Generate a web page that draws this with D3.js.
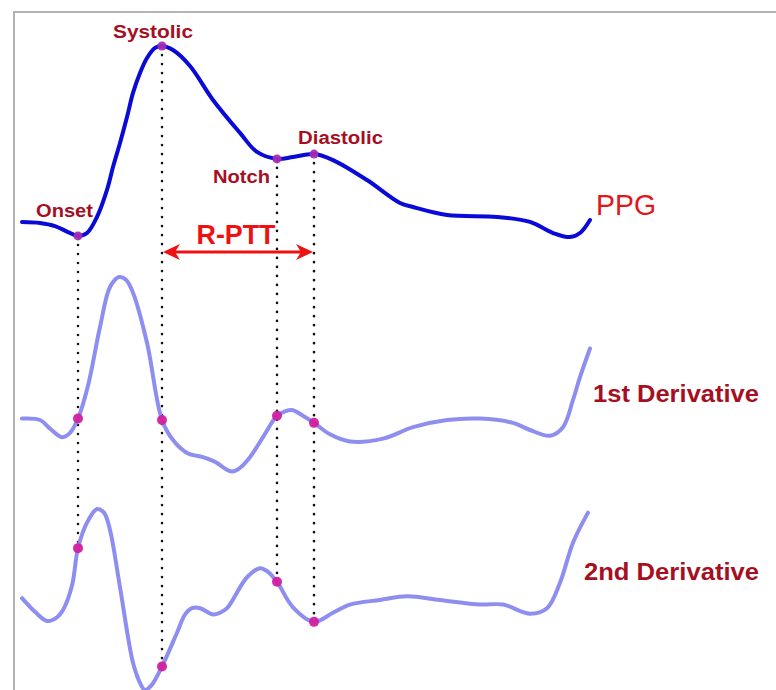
<!DOCTYPE html>
<html>
<head>
<meta charset="utf-8">
<script src="https://cdn.jsdelivr.net/npm/d3@7"></script>
<style>
  html, body { margin: 0; padding: 0; background: #fff; }
  svg { display: block; }
  text { font-family: "Liberation Sans", Arial, sans-serif; }
</style>
</head>
<body>
<div id="chart"></div>
<script>
// One cardiac cycle of a PPG pulse with its first and second derivatives.
// Time in ms from start of the window; amplitudes normalised per trace.
const ppgT = [0, 18, 33, 46, 56, 65, 75, 85, 91, 98, 105, 111, 118, 125, 133, 140, 151, 168, 191, 218, 235, 255, 271, 292, 311, 345, 378, 391, 425, 475, 508, 531, 548, 558, 568];
const ppgV = [0.093, 0.088, 0.072, 0.041, 0.021, 0.036, 0.119, 0.258, 0.376, 0.500, 0.634, 0.758, 0.861, 0.938, 0.990, 1.0, 0.979, 0.897, 0.722, 0.552, 0.454, 0.418, 0.428, 0.443, 0.412, 0.309, 0.191, 0.170, 0.129, 0.119, 0.093, 0.036, 0.015, 0.036, 0.103];

const d1T = [0, 18, 28, 40, 48, 56, 66, 78, 88, 97, 104, 111, 125, 140, 151, 165, 181, 195, 203, 210, 217, 228, 241, 255, 263, 270, 281, 292, 308, 328, 361, 391, 425, 458, 491, 508, 528, 541, 551, 558, 568];
const d1V = [0.01, 0, -0.06, -0.12, -0.09, 0.01, 0.24, 0.65, 0.93, 1.0, 0.98, 0.89, 0.54, 0, -0.14, -0.23, -0.26, -0.30, -0.34, -0.36, -0.34, -0.26, -0.12, 0.03, 0.06, 0.07, 0.03, -0.02, -0.10, -0.15, -0.13, -0.05, 0, 0.01, -0.02, -0.07, -0.11, -0.05, 0.14, 0.30, 0.50];

const d2T = [0, 13, 25, 35, 41, 50, 56, 65, 75, 82, 88, 98, 111, 118, 123, 130, 140, 155, 163, 170, 178, 191, 198, 205, 225, 238, 246, 255, 271, 292, 311, 328, 358, 385, 418, 458, 481, 508, 525, 538, 551, 566];
const d2V = [0.02, -0.13, -0.23, -0.19, -0.11, 0.16, 0.57, 0.85, 1.0, 0.96, 0.77, 0.14, -0.69, -0.91, -0.99, -0.93, -0.73, -0.36, -0.16, -0.09, -0.09, -0.16, -0.14, -0.09, 0.25, 0.35, 0.31, 0.20, -0.08, -0.24, -0.14, -0.05, 0, 0.04, 0, -0.05, -0.05, -0.15, -0.09, 0.19, 0.63, 0.96];

// Fiducial points on the PPG pulse
const fiducialNames = ["Onset", "Systolic", "Notch", "Diastolic"];
const fiducialT = [56, 140, 255, 292];

const traceNames = ["PPG", "1st Derivative", "2nd Derivative"];

const W = 776, H = 690;
const svg = d3.select("#chart").append("svg").attr("width", W).attr("height", H);

const x = d3.scaleLinear().domain([0, 568]).range([22, 590]);
const yPPG = d3.scaleLinear().domain([0, 1]).range([240, 46]);
const yD1 = d3.scaleLinear().domain([0, 1]).range([420, 277]);
const yD2 = d3.scaleLinear().domain([0, 1]).range([600, 509]);

// frame
svg.append("path")
  .attr("d", `M14,${H} L14,12 L${W},12`)
  .attr("fill", "none").attr("stroke", "#b4b4b4").attr("stroke-width", 2);

const series = [
  { t: ppgT, v: ppgV, y: yPPG, color: "#0a0ad8", width: 4 },
  { t: d1T, v: d1V, y: yD1, color: "#8e8ef0", width: 4 },
  { t: d2T, v: d2V, y: yD2, color: "#8e8ef0", width: 4 }
];
const valueAt = (s, t) => s.v[s.t.indexOf(t)];

// dotted guides from the PPG point down to the 2nd-derivative point
const guides = svg.append("g");
fiducialT.forEach(t => {
  guides.append("line")
    .attr("x1", x(t)).attr("x2", x(t))
    .attr("y1", yPPG(valueAt(series[0], t)))
    .attr("y2", yD2(valueAt(series[2], t)))
    .attr("stroke", "#111").attr("stroke-width", 2.6)
    .attr("stroke-linecap", "round")
    .attr("stroke-dasharray", "0.1,8.9");
});

// traces
series.forEach(s => {
  const line = d3.line().curve(d3.curveCatmullRom.alpha(0.5))
    .x((d, i) => x(s.t[i])).y((d, i) => s.y(s.v[i]));
  svg.append("path")
    .attr("d", line(s.v))
    .attr("fill", "none")
    .attr("stroke", s.color)
    .attr("stroke-width", s.width)
    .attr("stroke-linecap", "round")
    .attr("stroke-linejoin", "round");
});

// fiducial markers
series.forEach((s, k) => {
  fiducialT.forEach(t => {
    svg.append("circle")
      .attr("cx", x(t)).attr("cy", s.y(valueAt(s, t)))
      .attr("r", k === 0 ? 4.5 : 5)
      .attr("fill", k === 0 ? "#a52cb4" : "#d1209e")
      .attr("opacity", 0.95);
  });
});

// fiducial labels
const darkRed = "#a60f1f";
const labelSpec = [
  { x: 36, y: 217, w: 57 },
  { x: 113, y: 38, w: 80 },
  { x: 213, y: 183, w: 57 },
  { x: 298, y: 144, w: 85 }
];
fiducialNames.forEach((name, i) => {
  const p = labelSpec[i];
  svg.append("text")
    .attr("x", p.x).attr("y", p.y)
    .attr("textLength", p.w).attr("lengthAdjust", "spacingAndGlyphs")
    .attr("font-size", 18).attr("font-weight", "bold")
    .attr("fill", darkRed)
    .text(name);
});

// trace labels
svg.append("text").attr("x", 596).attr("y", 215)
  .attr("font-size", 29).attr("fill", "#e3161c")
  .attr("textLength", 60).attr("lengthAdjust", "spacingAndGlyphs")
  .text(traceNames[0]);
svg.append("text").attr("x", 593).attr("y", 402)
  .attr("font-size", 23).attr("font-weight", "bold").attr("fill", darkRed)
  .attr("textLength", 166).attr("lengthAdjust", "spacingAndGlyphs")
  .text(traceNames[1]);
svg.append("text").attr("x", 584).attr("y", 580)
  .attr("font-size", 23).attr("font-weight", "bold").attr("fill", darkRed)
  .attr("textLength", 175).attr("lengthAdjust", "spacingAndGlyphs")
  .text(traceNames[2]);

// R-PTT interval: systolic peak to diastolic peak
const xa = x(fiducialT[1]) + 1, xb = x(fiducialT[3]) - 1, ya = 252;
const red = "#ee1111";
svg.append("line").attr("x1", xa + 6).attr("x2", xb - 6).attr("y1", ya).attr("y2", ya)
  .attr("stroke", red).attr("stroke-width", 3);
svg.append("path")
  .attr("d", `M${xa},${ya} L${xa + 17},${ya - 8} L${xa + 12},${ya} L${xa + 17},${ya + 8} Z`)
  .attr("fill", red);
svg.append("path")
  .attr("d", `M${xb},${ya} L${xb - 17},${ya - 8} L${xb - 12},${ya} L${xb - 17},${ya + 8} Z`)
  .attr("fill", red);
svg.append("text").attr("x", (xa + xb) / 2 - 2).attr("y", 244)
  .attr("text-anchor", "middle")
  .attr("font-size", 27).attr("font-weight", "bold").attr("fill", red)
  .attr("textLength", 79).attr("lengthAdjust", "spacingAndGlyphs")
  .text("R-PTT");
</script>
</body>
</html>
